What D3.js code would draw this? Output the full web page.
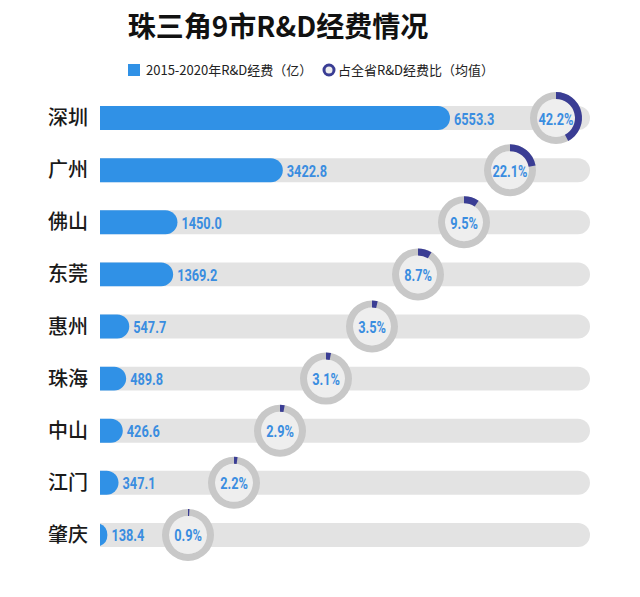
<!DOCTYPE html>
<html>
<head>
<meta charset="utf-8">
<title>珠三角9市R&D经费情况</title>
<script src="https://cdnjs.cloudflare.com/ajax/libs/d3/7.8.5/d3.min.js"></script>
<style>
	body { margin: 0; background: #fff; }
	.title { font-family: "Noto Sans CJK SC", sans-serif; font-weight: 700; font-size: 28px; fill: #111; }
	.legend { font-family: "Noto Sans CJK SC", sans-serif; font-size: 13px; fill: #222; }
	.city { font-family: "Noto Sans CJK SC", sans-serif; font-size: 20px; fill: #1a1a1a; font-weight: 500; }
	.num { font-family: Roboto, "Liberation Sans", sans-serif; font-weight: 700; font-size: 17px; fill: #3a8de0; }
</style>
</head>
<body>
<script>
// data
var cities = ["深圳", "广州", "佛山", "东莞", "惠州", "珠海", "中山", "江门", "肇庆"];
var spend = [6553.3, 3422.8, 1450.0, 1369.2, 547.7, 489.8, 426.6, 347.1, 138.4];
var share = [42.2, 22.1, 9.5, 8.7, 3.5, 3.1, 2.9, 2.2, 0.9];

var W = 640, H = 597;
var squeeze = 0.75; // condensed look for the numbers

var svg = d3.select("body").append("svg")
	.attr("width", W)
	.attr("height", H);

var y = d3.scaleBand()
	.domain(cities)
	.range([92, 561])
	.paddingInner(0.54)
	.paddingOuter(0.27);

var x = d3.scaleLinear()
	.domain([0, 6553.3])
	.range([100, 450]);

// donuts sit on a diagonal, by row
var ringX = d3.scaleLinear()
	.domain([0, cities.length - 1])
	.range([556, 188]);

var bh = y.bandwidth();

// title
svg.append("text")
	.attr("class", "title")
	.attr("x", 278)
	.attr("y", 37)
	.attr("text-anchor", "middle")
	.text("珠三角9市R&D经费情况");

// legend
var lg = svg.append("g").attr("class", "legend");
lg.append("rect")
	.attr("x", 128).attr("y", 64)
	.attr("width", 12).attr("height", 12)
	.attr("fill", "#3091e6");
lg.append("text")
	.attr("x", 146).attr("y", 75)
	.text("2015-2020年R&D经费（亿）");
lg.append("circle")
	.attr("cx", 329).attr("cy", 70).attr("r", 5)
	.attr("fill", "#eee")
	.attr("stroke", "#3a3d94")
	.attr("stroke-width", 3);
lg.append("text")
	.attr("x", 338).attr("y", 75)
	.text("占全省R&D经费比（均值）");

function roundRight(x0, x1, yTop, h) {
	var r = h / 2;
	var w = Math.max(x1 - x0, 0);
	if (w < r) {
		// short bar: only a slice of the round end
		var p = d3.path();
		var a = Math.acos((r - w) / r);
		p.moveTo(x0, yTop + r - Math.sqrt(r * r - (r - w) * (r - w)));
		p.arc(x0 - (r - w), yTop + r, r, -a, a);
		p.closePath();
		return p.toString();
	}
	return "M" + x0 + "," + yTop +
		"H" + (x1 - r) +
		"A" + r + "," + r + " 0 0 1 " + (x1 - r) + "," + (yTop + h) +
		"H" + x0 + "Z";
}

var rows = svg.selectAll("g.row")
	.data(cities)
	.enter()
	.append("g")
		.attr("class", "row");

// tracks
rows.append("path")
	.attr("d", function(d) { return roundRight(x(0), 590, y(d), bh); })
	.attr("fill", "#e3e3e3");

// bars
rows.append("path")
	.attr("d", function(d, i) {
		var x1 = x(spend[i]);
		return roundRight(x(0), Math.max(x1, x(0) + bh / 2 * 0.6), y(d), bh);
	})
	.attr("fill", "#3091e6");

// bar values
rows.append("text")
	.attr("class", "num")
	.attr("transform", function(d, i) {
		var tx = Math.max(x(spend[i]), x(0) + 6) + 4;
		return "translate(" + tx + "," + (y(d) + bh / 2 + 6.5) + ") scale(" + squeeze + ",1)";
	})
	.text(function(d, i) { return d3.format(".1f")(spend[i]); });

// city names
rows.append("text")
	.attr("class", "city")
	.attr("x", 88)
	.attr("y", function(d) { return y(d) + bh / 2 + 7; })
	.attr("text-anchor", "end")
	.text(function(d) { return d; });

// donuts
var outerR = 26, innerR = 19;
var arc = d3.arc().innerRadius(innerR).outerRadius(outerR);
var pct = d3.scaleLinear().domain([0, 100]).range([0, 2 * Math.PI]);

var rings = rows.append("g")
	.attr("transform", function(d, i) {
		return "translate(" + ringX(i) + "," + (y(d) + bh / 2) + ")";
	});

rings.append("circle")
	.attr("r", innerR)
	.attr("fill", "#eeeeee");

rings.append("path")
	.attr("d", arc({ startAngle: 0, endAngle: 2 * Math.PI }))
	.attr("fill", "#c8c8c8");

rings.append("path")
	.attr("d", function(d, i) {
		return arc({ startAngle: 0, endAngle: Math.max(pct(share[i]), 0.04) });
	})
	.attr("fill", "#3a3d94");

rings.append("text")
	.attr("class", "num")
	.attr("text-anchor", "middle")
	.attr("transform", "translate(0,6.5) scale(" + squeeze + ",1)")
	.text(function(d, i) { return d3.format(".1f")(share[i]) + "%"; });
</script>
</body>
</html>
